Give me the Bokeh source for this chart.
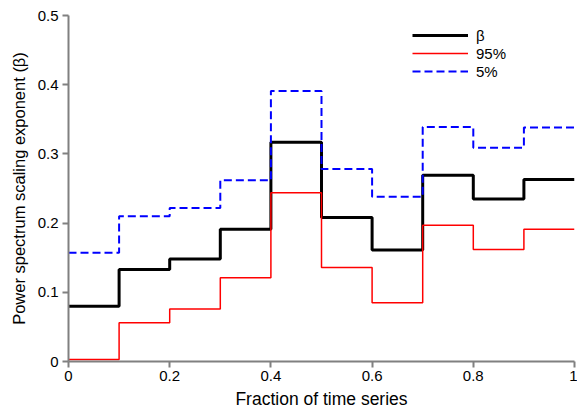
from bokeh.plotting import figure
from bokeh.models import Legend, LegendItem, FixedTicker
from bokeh.embed import file_html
from bokeh.resources import INLINE

# Data
edges = [0.0, 0.1, 0.2, 0.3, 0.4, 0.5, 0.6, 0.7, 0.8, 0.9, 1.0]
beta = [0.080, 0.133, 0.148, 0.191, 0.317, 0.208, 0.161, 0.269, 0.235, 0.263]
p95 = [0.003, 0.056, 0.076, 0.121, 0.244, 0.136, 0.085, 0.197, 0.162, 0.191]
p5 = [0.157, 0.210, 0.222, 0.262, 0.391, 0.278, 0.238, 0.339, 0.309, 0.338]
x_ticks = [0, 0.2, 0.4, 0.6, 0.8, 1]
y_ticks = [0, 0.1, 0.2, 0.3, 0.4, 0.5]
series_names = ["β", "95%", "5%"]

FONT = "Liberation Sans"

p = figure(width=577, height=412, output_backend="svg", toolbar_location=None,
           x_range=(0, 1), y_range=(0, 0.5),
           min_border_left=68, min_border_right=3, min_border_top=15, min_border_bottom=51)
p.outline_line_color = None
p.xgrid.visible = False
p.ygrid.visible = False
p.background_fill_color = "white"

def ext(v):
    return v + [v[-1]]

r_beta = p.step(edges, ext(beta), mode="after", line_color="black", line_width=3)
r_95 = p.step(edges, ext(p95), mode="after", line_color="#ff0000", line_width=1.5)
r_5 = p.step(edges, ext(p5), mode="after", line_color="#0000ff", line_width=2, line_dash="8 4")

for ax in (p.xaxis[0], p.yaxis[0]):
    ax.axis_line_color = "#808080"
    ax.axis_line_width = 2
    ax.major_tick_line_color = "#808080"
    ax.major_tick_line_width = 2
    ax.major_tick_in = 0
    ax.major_tick_out = 6
    ax.minor_tick_line_color = None
    ax.major_label_text_font = FONT
    ax.major_label_text_font_size = "15px"
    ax.major_label_text_color = "black"
    ax.axis_label_text_font = FONT
    ax.axis_label_text_font_style = "normal"
    ax.axis_label_text_color = "black"

p.xaxis[0].axis_label_text_font_size = "17.5px"
p.yaxis[0].axis_label_text_font_size = "16.5px"
p.xaxis[0].ticker = FixedTicker(ticks=x_ticks)
p.yaxis[0].ticker = FixedTicker(ticks=y_ticks)
p.xaxis[0].major_label_overrides = {0: "0", 1: "1"}
p.yaxis[0].major_label_overrides = {0: "0"}
p.xaxis[0].axis_label = "Fraction of time series"
p.yaxis[0].axis_label = "Power spectrum scaling exponent (β)"
p.xaxis[0].major_label_standoff = 3
p.yaxis[0].major_label_standoff = 4
p.xaxis[0].axis_label_standoff = 5
p.yaxis[0].axis_label_standoff = 7

legend = Legend(items=[LegendItem(label=series_names[0], renderers=[r_beta]),
                       LegendItem(label=series_names[1], renderers=[r_95]),
                       LegendItem(label=series_names[2], renderers=[r_5])],
                location=(344, 281), border_line_color=None, background_fill_alpha=0,
                glyph_width=56, glyph_height=18, label_height=18, spacing=0,
                padding=0, margin=0, label_standoff=8,
                label_text_font=FONT, label_text_font_size="15px",
                label_text_color="black")
p.add_layout(legend, "center")

open("out.html", "w").write(file_html(p, INLINE))
